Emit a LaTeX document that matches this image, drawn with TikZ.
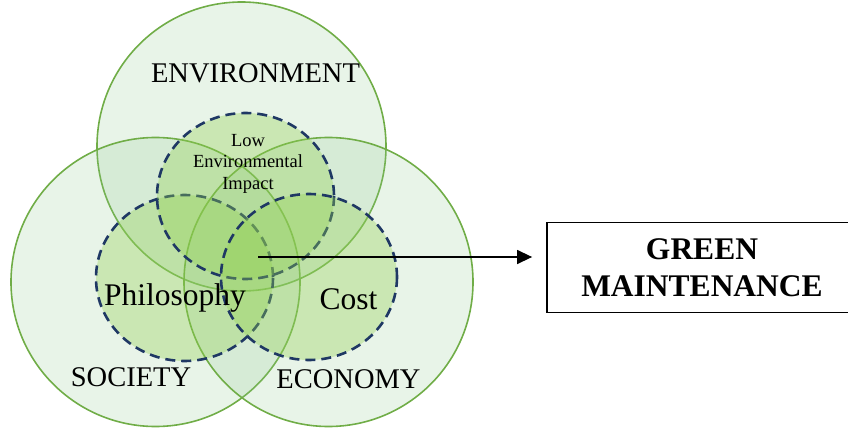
\documentclass[tikz,border=0pt]{standalone}
\usepackage{fontspec}
\setmainfont{Liberation Serif}[BoldFont={Liberation Serif Bold}]
\usetikzlibrary{arrows.meta}

\definecolor{setgreen}{HTML}{70AD47}
\definecolor{setfill}{RGB}{140,199,140}
\definecolor{areafill}{HTML}{92D050}
\definecolor{arealine}{HTML}{1F3864}

\begin{document}
\begin{tikzpicture}[x=1pt,y=-1pt,
    bigset/.style={draw=setgreen,line width=1.6pt,fill=setfill,fill opacity=0.2},
    area/.style={draw=arealine,line width=2.6pt,dash pattern=on 10pt off 6pt,fill=areafill,fill opacity=0.35},
    setlabel/.style={anchor=base,inner sep=0pt,font=\fontsize{28.5}{34}\selectfont},
    arealabel/.style={anchor=base,inner sep=0pt,font=\fontsize{31.5}{36}\selectfont}]
    \clip (0,0) rectangle (848,428);

    % the three big sets
    \path[bigset] (241.5,146.5) circle (144.5);
    \path[bigset] (155.5,282) circle (144.5);
    \path[bigset] (328.5,282) circle (144.5);

    % dashed areas inside them
    \path[area] (184.5,278) ellipse [x radius=88.5,y radius=83];
    \path[area] (245.5,196) ellipse [x radius=88.5,y radius=83];
    \path[area] (309,277) ellipse [x radius=88,y radius=83];

    \node[setlabel] (env) at (255.5,82) {ENVIRONMENT};
    \node[setlabel] (soc) at (131,386) {SOCIETY};
    \node[setlabel] (eco) at (348.5,388) {ECONOMY};
    \node[arealabel] (phil) at (175,305) {Philosophy};
    \node[arealabel] (cost) at (348.5,309) {Cost};
    \node[anchor=north,inner sep=0pt,align=center,font=\fontsize{18.5}{21.5}\selectfont] (lei) at (248,134) {Low\\Environmental\\Impact};

    % result box and arrow
    \node[draw,line width=1.8pt,inner sep=0pt,minimum width=310,minimum height=90,align=center,
          font=\fontsize{31.5}{36.7}\selectfont\bfseries] (gm) at (702,267.5) {GREEN\\MAINTENANCE};
    \coordinate (core) at (258,257);
    \draw[line width=1.4pt,-{Triangle[length=15pt,width=14pt]},shorten >=14pt] (core) -- (core -| gm.west);
\end{tikzpicture}
\end{document}
